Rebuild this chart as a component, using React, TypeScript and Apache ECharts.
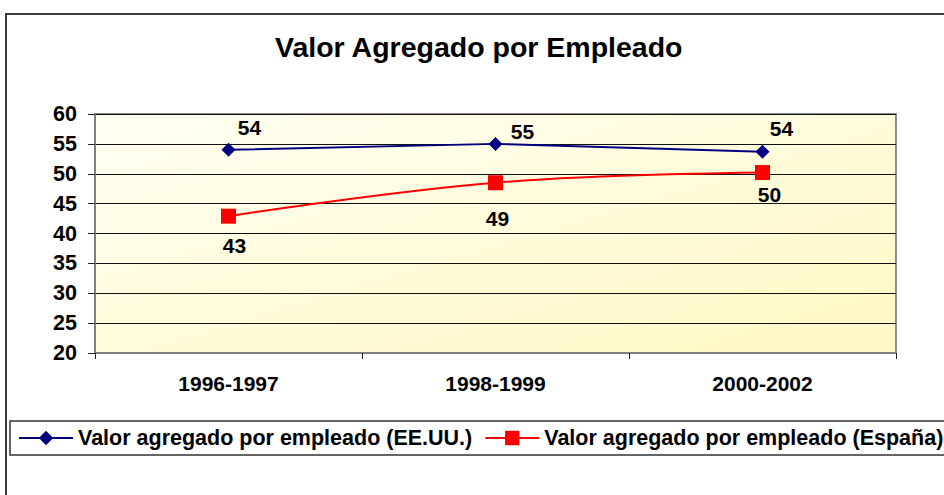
import React, { useEffect, useRef } from "react";
import * as echarts from "echarts";

const categories = ["1996-1997", "1998-1999", "2000-2002"];
const usaValues = [54.0, 55.0, 53.7];
const spainValues = [42.9, 48.5, 50.2];
const usaName = "Valor agregado por empleado (EE.UU.)";
const spainName = "Valor agregado por empleado (España)";
const titleText = "Valor Agregado por Empleado";

const usaLabelOffsets = [[21, -22], [27, -12], [19, -23]];
const spainLabelOffsets = [[6, 29], [2, 36], [7, 22]];

const FONT = "'Liberation Sans', Arial, sans-serif";

export default function App() {
  const ref = useRef<HTMLDivElement>(null);
  useEffect(() => {
    document.body.style.margin = "0";
    if (!ref.current) return;
    const chart = echarts.init(ref.current, null, { renderer: "svg" });
    const labelStyle = {
      show: true,
      position: "inside",
      fontFamily: FONT,
      fontWeight: "bold",
      fontSize: 21,
      color: "#000",
      formatter: (p: any) => String(Math.round(p.value)),
    };
    chart.setOption({
      animation: false,
      backgroundColor: "#ffffff",
      title: {
        text: titleText,
        left: 275,
        top: 32,
        padding: 0,
        textStyle: { fontFamily: FONT, fontWeight: "bold", fontSize: 28.5, color: "#000" },
      },
      graphic: [
        {
          type: "rect",
          shape: { x: 6, y: 14, width: 1000, height: 600 },
          style: { fill: "none", stroke: "#3a3a3a", lineWidth: 2 },
          silent: true,
          z: -10,
        },
        {
          type: "rect",
          shape: { x: 10, y: 421, width: 1000, height: 34 },
          style: { fill: "none", stroke: "#333", lineWidth: 1.5 },
          silent: true,
        },
      ],
      legend: {
        left: 18,
        top: 427,
        padding: 0,
        itemWidth: 54,
        itemHeight: 18,
        itemGap: 12,
        textStyle: { fontFamily: FONT, fontWeight: "bold", fontSize: 21.5, color: "#000" },
        data: [usaName, spainName],
      },
      grid: {
        left: 95,
        top: 114,
        right: 48,
        bottom: 142,
        show: true,
        borderColor: "#8c8c8c",
        borderWidth: 2,
        backgroundColor: new echarts.graphic.LinearGradient(0, 0, 1, 1, [
          { offset: 0, color: "#fffff2" },
          { offset: 1, color: "#fff8c4" },
        ]),
      },
      xAxis: {
        type: "category",
        data: categories,
        boundaryGap: true,
        axisLine: { lineStyle: { color: "#808080", width: 2 } },
        axisTick: { show: true, length: 6, lineStyle: { color: "#222", width: 1 } },
        axisLabel: {
          margin: 20,
          fontFamily: FONT,
          fontWeight: "bold",
          fontSize: 21,
          color: "#000",
        },
        splitLine: { show: false },
      },
      yAxis: {
        type: "value",
        min: 20,
        max: 60,
        interval: 5,
        axisLine: { show: true, lineStyle: { color: "#808080", width: 2 } },
        axisTick: { show: true, length: 7, lineStyle: { color: "#222", width: 1 } },
        axisLabel: {
          margin: 18,
          fontFamily: FONT,
          fontWeight: "bold",
          fontSize: 21.5,
          color: "#000",
        },
        splitLine: { show: true, lineStyle: { color: "#111", width: 1 } },
      },
      series: [
        {
          name: usaName,
          type: "line",
          data: usaValues.map((v, i) => ({
            value: v,
            label: { ...labelStyle, offset: usaLabelOffsets[i] },
          })),
          symbol: "diamond",
          symbolSize: 14,
          itemStyle: { color: "#000080" },
          lineStyle: { color: "#000080", width: 2 },
        },
        {
          name: spainName,
          type: "line",
          smooth: 0.4,
          data: spainValues.map((v, i) => ({
            value: v,
            label: { ...labelStyle, offset: spainLabelOffsets[i] },
          })),
          symbol: "rect",
          symbolSize: 15,
          itemStyle: { color: "#ff0000" },
          lineStyle: { color: "#ff0000", width: 2 },
        },
      ],
    });
    return () => chart.dispose();
  }, []);
  return <div ref={ref} style={{ width: 944, height: 495 }} />;
}
